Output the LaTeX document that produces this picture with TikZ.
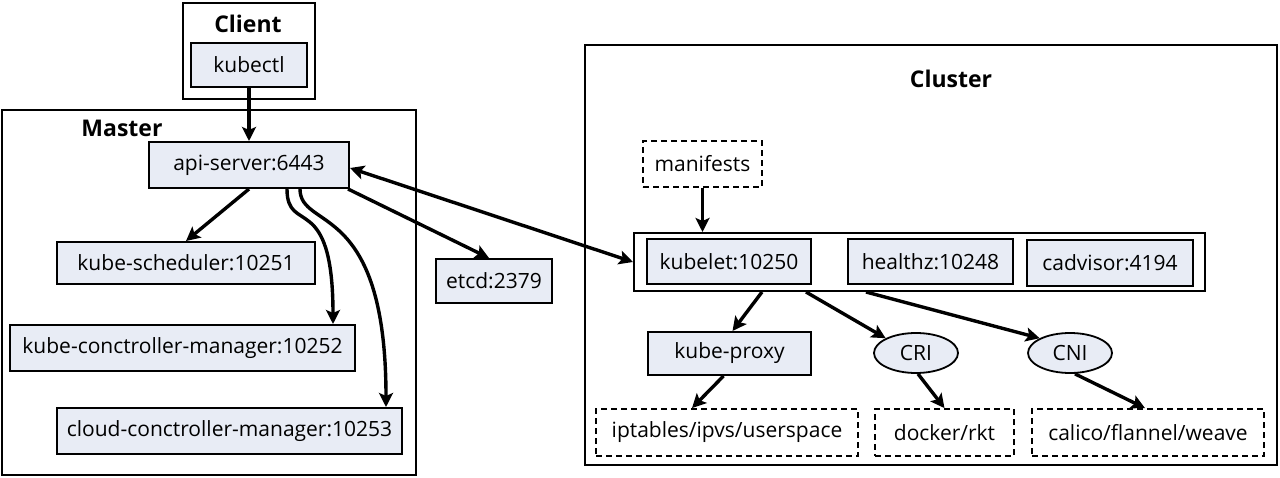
\documentclass[tikz,border=0pt]{standalone}
\usepackage{fontspec}
\setmainfont{Open Sans}
\usetikzlibrary{arrows.meta,shapes.geometric}
\definecolor{boxfill}{RGB}{232,236,245}
\tikzset{
  frame/.style={draw,line width=2pt,fill=none,inner sep=0pt},
  sbox/.style={draw,line width=2pt,fill=boxfill,inner sep=0pt,font=\fontsize{21}{25}\selectfont},
  dbox/.style={draw,dashed,dash pattern=on 6pt off 4pt,line width=1.8pt,fill=white,inner sep=0pt,font=\fontsize{21}{25}\selectfont},
  ell/.style={draw,ellipse,line width=1.8pt,fill=boxfill,inner sep=0pt,font=\fontsize{21}{25}\selectfont},
  ttl/.style={font=\bfseries\fontsize{23}{27}\selectfont,inner sep=0pt},
  arr/.style={line width=3.4pt,-{Stealth[length=14pt,width=14pt,inset=3pt]}},
  arrb/.style={line width=3.4pt,{Stealth[length=14pt,width=14pt,inset=3pt]}-{Stealth[length=14pt,width=14pt,inset=3pt]}},
}
\begin{document}
\begin{tikzpicture}[x=1pt,y=-1pt]
\useasboundingbox[fill=white] (0,0) rectangle (1280,478);
% frames
\node[frame,minimum width=132pt,minimum height=96pt] (clientf) at (249,51) {};
\node[ttl] (clientt) at (248,24) {Client};
\node[frame,minimum width=414pt,minimum height=365pt] (masterf) at (209,292.5) {};
\node[ttl] (mastert) at (122,128) {Master};
\node[frame,minimum width=692pt,minimum height=420pt] (clusterf) at (931,255) {};
\node[ttl] (clustert) at (951,79) {Cluster};
% master side
\node[sbox,minimum width=116pt,minimum height=44pt] (kubectl) at (249,65) {kubectl};
\node[sbox,minimum width=200pt,minimum height=46pt] (api) at (249,165) {api-server:6443};
\node[sbox,minimum width=258pt,minimum height=42pt] (sched) at (186,263) {kube-scheduler:10251};
\node[sbox,minimum width=345pt,minimum height=46pt] (kcm) at (182.5,348) {kube-conctroller-manager:10252};
\node[sbox,minimum width=345pt,minimum height=46pt] (ccm) at (229.5,431) {cloud-conctroller-manager:10253};
\node[sbox,minimum width=116pt,minimum height=44pt] (etcd) at (494,281) {etcd:2379};
% cluster side
\node[dbox,minimum width=119pt,minimum height=46pt] (manifests) at (702.5,164) {manifests};
\node[frame,fill=white,minimum width=571pt,minimum height=58pt] (group) at (919.5,262) {};
\node[sbox,minimum width=164pt,minimum height=45pt] (kubelet) at (729,261.5) {kubelet:10250};
\node[sbox,minimum width=165pt,minimum height=45pt] (healthz) at (930.5,261.5) {healthz:10248};
\node[sbox,minimum width=166pt,minimum height=46pt] (cadvisor) at (1110,263) {cadvisor:4194};
\node[sbox,minimum width=163pt,minimum height=43pt] (proxy) at (729.5,353.5) {kube-proxy};
\node[ell,minimum width=84pt,minimum height=40pt] (cri) at (916,353) {CRI};
\node[ell,minimum width=84pt,minimum height=40pt] (cni) at (1070,353) {CNI};
\node[dbox,minimum width=262pt,minimum height=47pt] (ipt) at (727,432.5) {iptables/ipvs/userspace};
\node[dbox,minimum width=139pt,minimum height=47pt] (docker) at (944.5,432.5) {docker/rkt};
\node[dbox,minimum width=232pt,minimum height=47pt] (calico) at (1148,432.5) {calico/flannel/weave};
% connectors
\draw[arr] (kubectl.south) -- (api.north);
\draw[arr] (api.south) -- (sched.north);
\draw[arr] ([xshift=38pt]api.south) .. controls +(0,47) and +(0,-135) .. ([xshift=150.5pt]kcm.north);
\draw[arr] ([xshift=51pt]api.south) .. controls +(0,42) and +(0,-208) .. ([xshift=156.5pt]ccm.north);
\draw[arr] ([xshift=-2pt]api.south east) -- ([xshift=-5pt]etcd.north);
\draw[arrb] ([yshift=-3pt]api.east) -- (group.west);
\draw[arr] (manifests.south) -- (manifests.south |- group.north);
\draw[arr] ([xshift=-157.5pt]group.south) -- ([xshift=3pt]proxy.north);
\draw[arr] ([xshift=-113.5pt]group.south) -- (cri.north west);
\draw[arr] ([xshift=-53.5pt]group.south) -- (cni.north west);
\draw[arr] ([xshift=-6pt]proxy.south) -- ([xshift=-35pt]ipt.north);
\draw[arr] ([xshift=2pt]cri.south) -- (docker.north);
\draw[arr] ([xshift=5pt]cni.south) -- ([xshift=-3pt]calico.north);
\end{tikzpicture}
\end{document}
